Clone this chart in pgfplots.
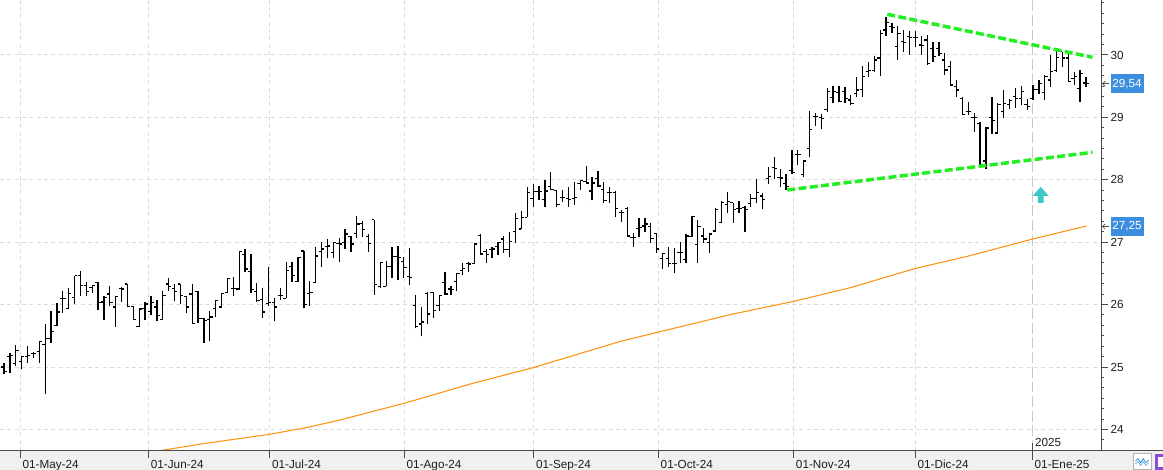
\documentclass[border=0pt]{standalone}
\usepackage{fontspec}
\setmainfont{Liberation Sans}
\usepackage{pgfplots}
\pgfplotsset{compat=1.18}
\usepackage{pgfplotstable}
\pgfdeclarelayer{background}
\pgfsetlayers{background,main}
\definecolor{gridc}{HTML}{DCDCDC}
\definecolor{axisc}{HTML}{4A4A4A}
\definecolor{stripc}{HTML}{F0F0F0}
\definecolor{labelc}{HTML}{1E1E1E}
\definecolor{boxc}{HTML}{3B8EDE}
\definecolor{trendc}{HTML}{22EE22}
\definecolor{mac}{HTML}{FF9410}
\definecolor{yearc}{HTML}{C8C8C8}
\definecolor{arrowc}{HTML}{3CC8C8}
\definecolor{purplec}{HTML}{8A4FD8}
\newcommand\lbl{\fontsize{8.8}{10}\selectfont}

\pgfdeclareplotmark{uparrowc}{%
  \pgfpathmoveto{\pgfqpoint{0pt}{6pt}}%
  \pgfpathlineto{\pgfqpoint{5.9pt}{-0.75pt}}%
  \pgfpathlineto{\pgfqpoint{2.15pt}{-0.75pt}}%
  \pgfpathlineto{\pgfqpoint{2.15pt}{-6pt}}%
  \pgfpathlineto{\pgfqpoint{-2.15pt}{-6pt}}%
  \pgfpathlineto{\pgfqpoint{-2.15pt}{-0.75pt}}%
  \pgfpathlineto{\pgfqpoint{-5.9pt}{-0.75pt}}%
  \pgfpathclose\pgfusepathqfill}

\pgfplotstableread{
k O H L C
0 25.00 25.06 24.88 24.93
1 25.17 25.22 24.90 25.18
2 25.06 25.36 25.02 25.26
3 25.09 25.18 24.96 25.17
4 25.17 25.34 25.07 25.18
5 25.22 25.24 25.14 25.21
6 25.25 25.42 25.07 25.41
7 25.36 25.69 24.57 25.46
8 25.46 25.90 25.39 25.57
9 25.66 26.03 25.65 25.88
10 26.10 26.21 25.87 26.10
11 25.94 26.26 25.94 26.18
12 26.12 26.46 26.01 26.46
13 26.46 26.54 26.13 26.30
14 26.30 26.36 26.13 26.21
15 26.28 26.32 26.19 26.30
16 26.36 26.37 25.92 26.03
17 26.04 26.13 25.75 26.12
18 26.17 26.30 25.97 26.03
19 25.96 26.14 25.64 26.13
20 26.26 26.28 26.04 26.25
21 26.33 26.33 25.97 25.97
22 25.97 25.98 25.76 25.76
23 25.65 25.94 25.64 25.93
24 25.94 26.04 25.75 26.01
25 25.89 26.13 25.83 26.03
26 25.96 26.08 25.73 25.83
27 25.76 26.22 25.75 26.15
28 26.33 26.42 26.21 26.29
29 26.26 26.33 26.05 26.21
30 26.33 26.33 26.01 26.14
31 26.13 26.14 25.87 25.96
32 26.17 26.33 25.70 25.70
33 26.21 26.22 25.70 25.78
34 25.78 25.78 25.38 25.75
35 25.76 25.90 25.41 25.80
36 25.94 26.08 25.80 26.07
37 25.96 26.19 25.94 26.18
38 26.19 26.42 26.18 26.42
39 26.26 26.44 26.13 26.26
40 26.25 26.86 26.24 26.85
41 26.80 26.89 26.52 26.57
42 26.53 26.81 26.18 26.24
43 26.21 26.34 26.04 26.07
44 26.08 26.26 25.79 25.88
45 26.02 26.61 25.97 26.03
46 26.03 26.10 25.73 25.96
47 26.14 26.26 26.08 26.14
48 26.10 26.69 26.10 26.54
49 26.61 26.68 26.37 26.46
50 26.37 26.77 26.36 26.76
51 26.86 26.86 25.95 26.00
52 26.18 26.38 25.97 26.19
53 26.35 26.92 26.34 26.78
54 26.85 27.01 26.61 26.89
55 26.93 27.05 26.74 26.94
56 26.84 27.01 26.74 27.00
57 26.98 27.07 26.69 26.97
58 27.00 27.21 26.89 27.13
59 27.09 27.10 26.84 26.97
60 27.14 27.42 27.06 27.29
61 27.30 27.34 27.09 27.20
62 27.09 27.13 26.84 26.98
63 27.36 27.36 26.16 26.32
64 26.29 26.69 26.27 26.67
65 26.29 26.70 26.29 26.61
66 26.61 26.93 26.42 26.77
67 26.77 26.94 26.39 26.75
68 26.69 26.77 26.43 26.59
69 26.45 26.91 26.32 26.43
70 25.98 26.15 25.62 25.65
71 25.69 25.96 25.49 25.72
72 26.18 26.20 25.69 25.85
73 26.19 26.20 25.78 25.90
74 25.98 26.16 25.89 26.14
75 26.36 26.52 26.16 26.17
76 26.25 26.30 26.16 26.24
77 26.37 26.51 26.21 26.50
78 26.55 26.66 26.47 26.58
79 26.66 26.68 26.53 26.65
80 26.66 26.99 26.65 26.97
81 27.11 27.13 26.80 26.81
82 26.85 26.89 26.66 26.80
83 26.88 26.93 26.74 26.89
84 26.93 27.01 26.80 26.99
85 27.05 27.10 26.83 26.88
86 26.88 27.17 26.77 27.01
87 27.17 27.47 26.99 27.38
88 27.21 27.50 27.21 27.40
89 27.40 27.88 27.40 27.79
90 27.70 27.94 27.56 27.81
91 27.81 27.90 27.67 27.81
92 27.68 27.99 27.56 27.82
93 27.89 28.12 27.84 27.84
94 27.83 27.83 27.56 27.60
95 27.72 27.84 27.65 27.72
96 27.70 27.89 27.57 27.68
97 27.70 27.97 27.60 27.72
98 27.94 28.00 27.84 27.99
99 27.97 28.22 27.94 27.95
100 27.82 28.05 27.67 27.95
101 28.02 28.14 27.89 27.90
102 27.84 27.97 27.63 27.67
103 27.80 27.88 27.63 27.79
104 27.80 27.82 27.40 27.54
105 27.48 27.52 27.33 27.48
106 27.54 27.56 27.09 27.10
107 27.08 27.15 26.93 27.08
108 27.22 27.38 27.08 27.24
109 27.26 27.38 27.17 27.29
110 27.25 27.30 26.99 27.06
111 27.14 27.14 26.83 26.89
112 26.74 26.83 26.57 26.82
113 26.74 26.92 26.61 26.66
114 26.66 26.90 26.51 26.66
115 26.83 27.01 26.66 26.83
116 26.72 27.13 26.67 27.10
117 27.09 27.42 27.09 27.41
118 26.96 27.36 26.66 27.25
119 27.10 27.22 26.99 27.05
120 27.00 27.15 26.82 27.13
121 27.18 27.54 27.17 27.52
122 27.31 27.66 27.30 27.63
123 27.60 27.80 27.46 27.65
124 27.63 27.63 27.31 27.52
125 27.54 27.66 27.47 27.54
126 27.55 27.58 27.17 27.52
127 27.62 27.78 27.56 27.70
128 27.70 28.02 27.62 27.79
129 27.74 27.79 27.53 27.68
130 28.02 28.20 27.94 28.05
131 28.20 28.36 28.01 28.18
132 28.04 28.18 27.89 28.03
133 27.94 28.10 27.84 27.89
134 28.15 28.47 28.10 28.12
135 28.40 28.47 28.24 28.40
136 28.08 28.31 28.04 28.30
137 28.50 29.10 28.36 28.80
138 29.02 29.07 28.86 29.02
139 29.00 29.06 28.82 28.98
140 29.12 29.47 29.09 29.41
141 29.32 29.50 29.23 29.41
142 29.40 29.50 29.24 29.26
143 29.41 29.49 29.23 29.30
144 29.28 29.36 29.20 29.22
145 29.38 29.65 29.33 29.44
146 29.45 29.82 29.33 29.65
147 29.73 29.89 29.64 29.75
148 29.75 29.98 29.72 29.92
149 29.95 30.40 29.66 30.35
150 30.40 30.61 30.30 30.52
151 30.45 30.52 30.36 30.44
152 30.13 30.46 29.92 30.35
153 30.21 30.40 30.04 30.20
154 30.30 30.39 30.00 30.28
155 30.28 30.38 30.13 30.28
156 30.16 30.30 30.00 30.15
157 30.24 30.32 29.84 29.86
158 30.10 30.21 29.89 29.97
159 30.10 30.20 29.98 30.03
160 29.92 30.03 29.68 29.76
161 29.81 29.90 29.50 29.52
162 29.50 29.60 29.33 29.44
163 29.30 29.33 29.04 29.04
164 29.10 29.25 29.04 29.09
165 29.00 29.07 28.77 29.00
166 28.90 28.93 28.21 28.25
167 28.30 28.85 28.18 28.83
168 29.00 29.32 28.74 28.95
169 28.75 29.23 28.73 29.20
170 29.10 29.44 28.99 29.22
171 29.20 29.30 29.14 29.27
172 29.33 29.47 29.15 29.30
173 29.30 29.50 29.20 29.41
174 29.20 29.30 29.12 29.17
175 29.30 29.52 29.28 29.45
176 29.45 29.60 29.37 29.54
177 29.40 29.68 29.28 29.65
178 29.60 30.00 29.49 29.73
179 29.75 30.11 29.73 29.96
180 30.05 30.05 29.81 29.95
181 29.95 30.03 29.57 29.57
182 29.62 29.73 29.52 29.66
183 29.46 29.76 29.25 29.70
184 29.55 29.65 29.49 29.54
}\ohlc

\pgfplotstableread{
k ma
20.0 23.57
26.5 23.659
34.5 23.78
45.1 23.92
51.5 24.03
57.1 24.15
68.1 24.42
79.8 24.74
90.0 24.99
104.8 25.41
111.3 25.56
124.0 25.85
134.2 26.05
143.9 26.27
155.0 26.58
163.7 26.77
174.9 27.05
184.1 27.26
}\matable

\begin{document}
\begin{tikzpicture}[x=1pt,y=1pt]
\begin{axis}[
  name=ax,
  at={(0,0)}, anchor=south west,
  scale only axis, width=825.75pt, height=338.25pt,
  xmin=-0.68, xmax=186.56, ymin=23.654, ymax=30.881,
  axis x line*=bottom, axis y line*=right,
  axis line style={-, draw=axisc, line width=0.75pt},
  tick align=outside,
  major tick length=5pt, minor tick length=2.5pt,
  tick style={axisc, line width=0.75pt},
  xtick={2.77,24.6,45.2,68.1,90.1,111.3,134.3,155.0,174.9},
  xticklabels={01-May-24,01-Jun-24,01-Jul-24,01-Ago-24,01-Sep-24,01-Oct-24,01-Nov-24,01-Dic-24,01-Ene-25},
  xticklabel style={anchor=north west, inner sep=0pt, xshift=1.5pt, yshift=-1.5pt, font=\lbl, text=labelc},
  ytick={24,25,...,30},
  minor ytick={23.6667,23.8333,24.1667,24.3333,24.5,24.6667,24.8333,25.1667,25.3333,25.5,25.6667,25.8333,26.1667,26.3333,26.5,26.6667,26.8333,27.1667,27.3333,27.5,27.6667,27.8333,28.1667,28.3333,28.5,28.6667,28.8333,29.1667,29.3333,29.5,29.6667,29.8333,30.1667,30.3333,30.5,30.6667,30.8333},
  yticklabel style={anchor=west, inner sep=0pt, xshift=2pt, font=\lbl, text=labelc, /pgf/number format/assume math mode=true},
  grid=major,
  major grid style={gridc, dash pattern=on 3pt off 2.5pt, line width=0.75pt},
  clip=true,
]
\addplot[yearc, line width=1.1pt, dash pattern=on 7.5pt off 3.5pt] coordinates {(174.9,23.654) (174.9,30.881)};
\addplot[mac, line width=0.8pt, no markers] table[x=k, y=ma] {\matable};
\addplot[black, line width=0.95pt, no markers, quiver={u=0, v=\thisrow{H}-\thisrow{L}}] table[x=k, y=L] {\ohlc};
\addplot[black, line width=0.9pt, no markers, quiver={u=0.47, v=0}] table[x expr=\thisrow{k}-0.47, y=O] {\ohlc};
\addplot[black, line width=0.9pt, no markers, quiver={u=0.47, v=0}] table[x=k, y=C] {\ohlc};
\addplot[trendc, line width=2.6pt, dash pattern=on 6pt off 2.5pt] coordinates {(150.2,30.652) (185.1,29.963)};
\addplot[trendc, line width=2.6pt, dash pattern=on 6pt off 2.5pt] coordinates {(133.2,27.837) (185.1,28.44)};
\addplot[arrowc, only marks, mark=uparrowc] coordinates {(176.3,27.76)};
\coordinate (p1) at (axis cs:186.56,29.54);
\coordinate (p2) at (axis cs:186.56,27.25);
\coordinate (jan) at (axis cs:174.9,23.654);
\end{axis}
\begin{pgfonlayer}{background}
\fill[white] ([yshift=-14.25pt]ax.south west) rectangle ([xshift=46.5pt]ax.north east);
\fill[stripc] ([yshift=-14.25pt]ax.south west) rectangle ([xshift=46.5pt]ax.south east);
\end{pgfonlayer}
\draw[axisc, line width=0.75pt] (ax.south west) -- ([xshift=46.5pt]ax.south east);
% price labels
\foreach \p/\t in {p1/{29,54},p2/{27,25}}{
  \node[fill=boxc, text=white, inner sep=0pt, minimum width=24.75pt, minimum height=14pt, font=\lbl] at ([xshift=19.5pt]\p) {\t};
  \draw[axisc, line width=0.5pt] ([xshift=1.2pt]\p) -- ([xshift=6pt]\p);
  \draw[axisc, line width=0.5pt] ([xshift=3.2pt,yshift=2pt]\p) -- ([xshift=1.2pt]\p) -- ([xshift=3.2pt,yshift=-2pt]\p);
}
% year marker
\draw[axisc, line width=0.75pt] ([yshift=6pt]jan) -- ([yshift=-6.75pt]jan);
\node[anchor=base west, inner sep=0pt, font=\lbl, text=labelc] at ([xshift=1.8pt, yshift=3pt]jan) {2025};
% bottom-right buttons
\begin{scope}[shift={([yshift=-14.25pt]ax.south west)}]
\draw[gray!60, line width=0.75pt, fill=white] (849.75,0.4) rectangle (863.25,12);
\draw[boxc, line width=0.6pt] (851.5,6.5) -- (853.5,8.5) -- (855.5,5.5) -- (857.5,8.5) -- (859.5,5.5) -- (861.5,7.5);
\draw[boxc!70, line width=0.6pt] (851.5,4.5) -- (853.5,6.5) -- (855.5,3.5) -- (857.5,6.5) -- (859.5,3.5) -- (861.5,5.5);
\fill[purplec] (866.25,0) rectangle (872.25,12);
\fill[white] (868.5,2) rectangle (872.25,10);
\end{scope}
\pgfresetboundingbox
\path[use as bounding box] ([yshift=-14.25pt]ax.south west) rectangle ([xshift=46.5pt]ax.north east);
\end{tikzpicture}
\end{document}
